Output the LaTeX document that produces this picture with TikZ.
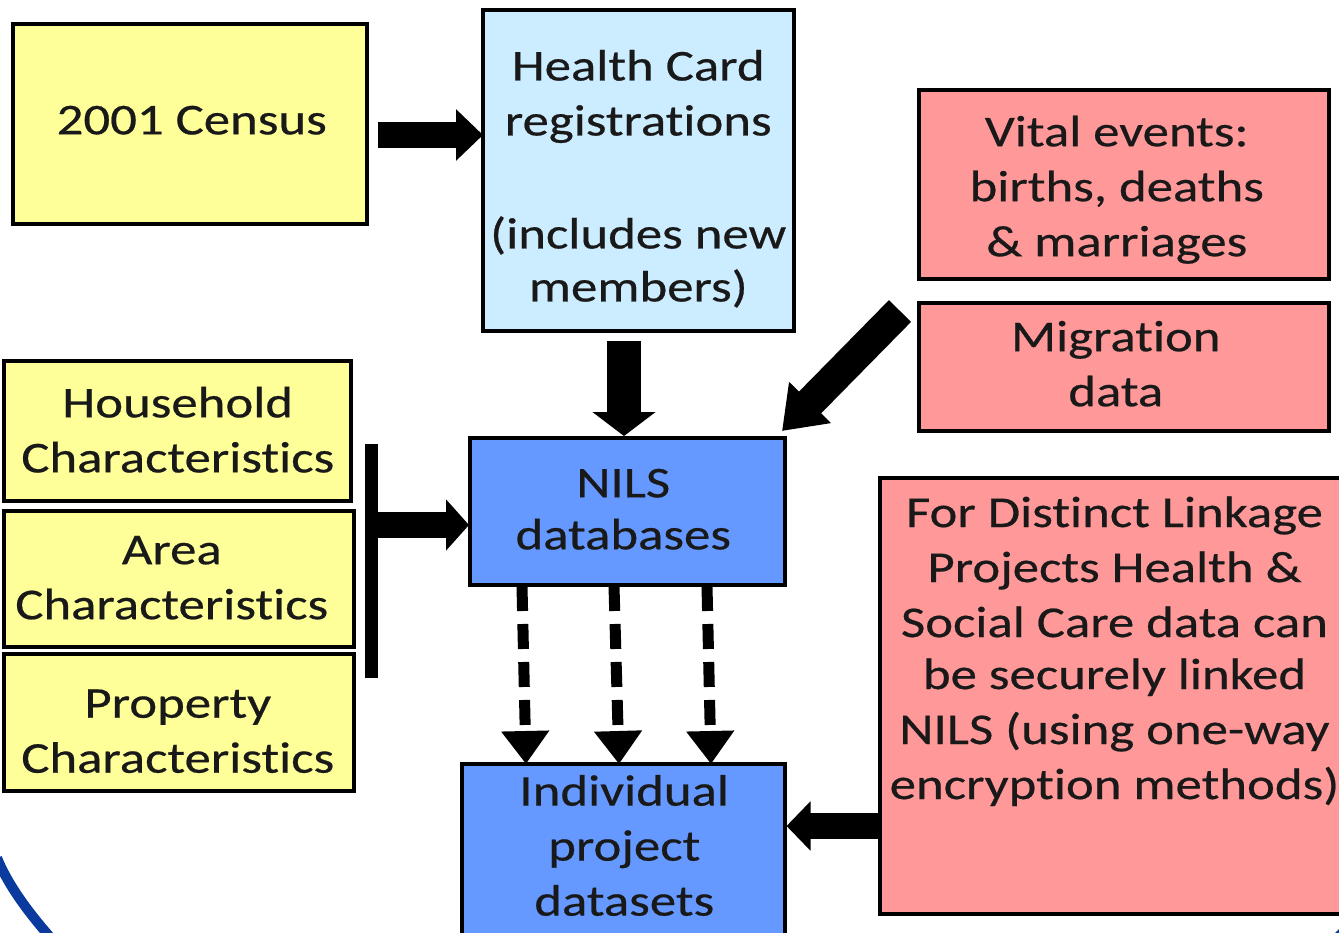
\documentclass[tikz,border=0pt]{standalone}
\usepackage{fontspec}
\setmainfont[Ligatures=NoCommon,FakeStretch=1.2,FakeBold=0.5]{Carlito}
\usetikzlibrary{arrows.meta}
\definecolor{ybox}{HTML}{FFFF99}
\definecolor{lblue}{HTML}{CCECFF}
\definecolor{mblue}{HTML}{6699FF}
\definecolor{pinkb}{HTML}{FF9999}
\definecolor{ringblue}{HTML}{0A3A9E}
\tikzset{x=1pt,y=-1pt,
 boxs/.style={draw=black,line width=4pt,inner sep=0pt},
 boxtext/.style={align=center,font=\fontsize{44}{55}\selectfont,text=black!90,inner sep=0pt},
 thick arrow/.style={line width=26pt,-{Triangle[length=23pt,width=50pt]}},
 dash arrow/.style={line width=11pt,dash pattern=on 25pt off 13pt,-{Triangle[length=33pt,width=46pt]}}}
\newcommand{\bx}[9]{\node[boxs,fill=#6,minimum width=#4pt-#2pt,minimum height=#5pt-#3pt,anchor=north west,xshift=-2pt,yshift=2pt] (#1) at (#2,#3) {}; \node[boxtext,xshift=#8pt,yshift=#9pt] (#1t) at (#1.center) {#7};}
\begin{document}
\begin{tikzpicture}
\useasboundingbox (0,0) rectangle (1339,933);
\fill[white] (0,0) rectangle (1339,933);
\draw[line width=10pt,ringblue] (-3,858) .. controls (6,880) and (22,905) .. (50,937);
\fill[ringblue] (1335,933) -- (1339,929) -- (1339,933) -- cycle;
\bx{census}{13}{24}{366.5}{224.5}{ybox}{2001 Census}{2}{4}
\bx{health}{483}{10}{793.5}{331.5}{lblue}{Health Card\\registrations\\[3pt]\\(includes new\\[-2pt]members)}{0}{-8}
\bx{vital}{919}{90}{1328.5}{279.5}{pinkb}{Vital events:\\births, deaths\\\& marriages}{-7}{-5}
\bx{migr}{919}{303}{1328.5}{430.5}{pinkb}{Migration\\data}{-8}{3}
\bx{house}{4}{361}{350.5}{500.5}{ybox}{Household\\Characteristics}{0.5}{1}
\bx{area}{4}{511}{353.5}{646.5}{ybox}{Area\\Characteristics}{-7}{1}
\bx{prop}{4}{654}{353.5}{790.5}{ybox}{Property\\Characteristics}{-1}{-9}
\bx{nils}{470}{438}{784.5}{584.5}{mblue}{NILS\\[-3pt]databases}{-4}{2}
\bx{indiv}{462}{764}{784.5}{945}{mblue}{Individual\\project\\datasets}{1}{9}
\bx{dist}{880}{478}{1345}{913.5}{pinkb}{For Distinct Linkage\\Projects Health \&\\Social Care data can\\[-3pt]be securely linked\\NILS (using one-way\\encryption methods)\\[50pt]}{2}{-4.5}
\fill[black] (365,444) rectangle (378,678);
\coordinate (a1) at (378,135);
\coordinate (a2) at (378,525);
\draw[thick arrow,-{Triangle[length=27pt,width=50pt]},shorten >=-2pt] (a1) -- (health.west|-a1);
\draw[thick arrow,shorten >=-1pt] (a2) -- (nils.west|-a2);
\coordinate (a3) at (624,341);
\draw[thick arrow,line width=34pt,-{Triangle[length=24pt,width=62pt]}] (a3) -- (nils.north-|a3);
\coordinate (a4) at (900,311);
\coordinate (a4e) at (782,431);
\draw[thick arrow,line width=31pt,-{Triangle[length=40pt,width=56pt]}] (a4) -- (a4e);
\coordinate (a5) at (880,826);
\draw[thick arrow,-{Triangle[length=24pt,width=48pt]}] (a5) -- (indiv.east|-a5);
\foreach \x/\y in {522/526,614/619,707/711}{
 \coordinate (t\x) at (\x,586);
 \coordinate (b\x) at (\y,764);
 \draw[dash arrow] (t\x) -- (b\x);}
\end{tikzpicture}
\end{document}
